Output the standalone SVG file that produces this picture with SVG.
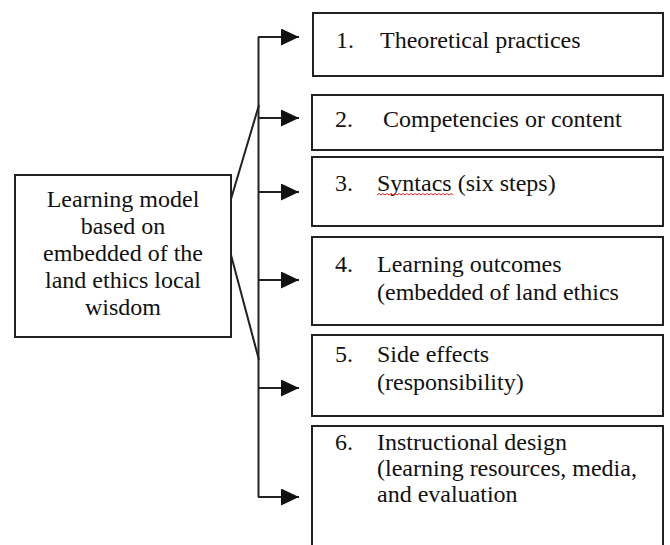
<svg xmlns="http://www.w3.org/2000/svg" width="670" height="545" viewBox="0 0 670 545">
  <style>
    .box { fill: #ffffff; stroke: #222222; stroke-width: 2; }
    .txt { font-size: 24px; fill: #111111; }
    .mid { text-anchor: middle; }
    .wire { fill: none; stroke: #222222; stroke-width: 2; }
    .spell { fill: none; stroke: #e02020; stroke-width: 1; }
  </style>
  <defs>
    <marker id="head" markerUnits="userSpaceOnUse" markerWidth="18" markerHeight="17" refX="18" refY="8.5" orient="auto">
      <path d="M0,0 L18,8.5 L0,17 Z" fill="#111111"/>
    </marker>
  </defs>
  <rect width="670" height="545" fill="#ffffff"/>

  <!-- connectors: spine, branches and arrows -->
  <g id="connectors">
    <line class="wire" x1="231" y1="199" x2="259" y2="105"/>
    <line class="wire" x1="231" y1="255" x2="259" y2="360"/>
    <line class="wire" x1="258.5" y1="37" x2="258.5" y2="497"/>
    <line class="wire" x1="258" y1="37" x2="299" y2="37" marker-end="url(#head)"/>
    <line class="wire" x1="258" y1="118" x2="299" y2="118" marker-end="url(#head)"/>
    <line class="wire" x1="258" y1="192" x2="299" y2="192" marker-end="url(#head)"/>
    <line class="wire" x1="258" y1="280" x2="299" y2="280" marker-end="url(#head)"/>
    <line class="wire" x1="258" y1="388" x2="299" y2="388" marker-end="url(#head)"/>
    <line class="wire" x1="258" y1="497" x2="299" y2="497" marker-end="url(#head)"/>
  </g>

  <g font-family="'Liberation Serif', 'Times New Roman', Tinos, 'DejaVu Serif', serif">
    <!-- source node -->
    <g id="model">
      <rect class="box" x="15" y="175" width="216" height="162"/>
      <text class="txt mid" x="123" y="207">Learning model</text>
      <text class="txt mid" x="123" y="234">based on</text>
      <text class="txt mid" x="123" y="261">embedded of the</text>
      <text class="txt mid" x="123" y="288">land ethics local</text>
      <text class="txt mid" x="123" y="315">wisdom</text>
    </g>

    <g id="item1">
      <rect class="box" x="313" y="13" width="350" height="63"/>
      <text class="txt" x="336" y="48">1.</text>
      <text class="txt" x="380" y="48">Theoretical practices</text>
    </g>

    <g id="item2">
      <rect class="box" x="312" y="95" width="351" height="55"/>
      <text class="txt" x="335" y="127">2.</text>
      <text class="txt" x="383" y="127">Competencies or content</text>
    </g>

    <g id="item3">
      <rect class="box" x="312" y="157" width="351" height="69"/>
      <text class="txt" x="335" y="191">3.</text>
      <text class="txt" x="377" y="191">Syntacs (six steps)</text>
      <path class="spell" d="M377,195 l2,-1.5 l2,1.5 l2,-1.5 l2,1.5 l2,-1.5 l2,1.5 l2,-1.5 l2,1.5 l2,-1.5 l2,1.5 l2,-1.5 l2,1.5 l2,-1.5 l2,1.5 l2,-1.5 l2,1.5 l2,-1.5 l2,1.5 l2,-1.5 l2,1.5 l2,-1.5 l2,1.5 l2,-1.5 l2,1.5 l2,-1.5 l2,1.5 l2,-1.5 l2,1.5 l2,-1.5 l2,1.5 l2,-1.5 l2,1.5 l2,-1.5 l2,1.5 l2,-1.5 l2,1.5 l2,-1.5 l2,1.5"/>
    </g>

    <g id="item4">
      <rect class="box" x="312" y="237" width="351" height="88"/>
      <text class="txt" x="335" y="272">4.</text>
      <text class="txt" x="377" y="272">Learning outcomes</text>
      <text class="txt" x="377" y="300">(embedded of land ethics</text>
    </g>

    <g id="item5">
      <rect class="box" x="312" y="335" width="351" height="81"/>
      <text class="txt" x="335" y="362">5.</text>
      <text class="txt" x="377" y="362">Side effects</text>
      <text class="txt" x="377" y="390">(responsibility)</text>
    </g>

    <g id="item6">
      <rect class="box" x="312" y="426" width="351" height="130"/>
      <text class="txt" x="335" y="450">6.</text>
      <text class="txt" x="377" y="450">Instructional design</text>
      <text class="txt" x="377" y="476">(learning resources, media,</text>
      <text class="txt" x="377" y="502">and evaluation</text>
    </g>
  </g>
</svg>
